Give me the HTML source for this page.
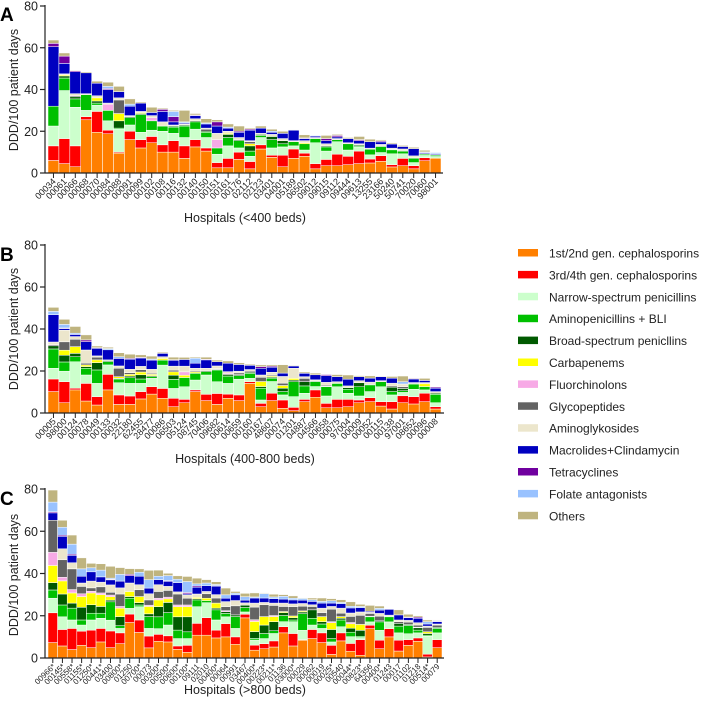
<!DOCTYPE html>
<html><head><meta charset="utf-8"><style>
html,body{margin:0;padding:0;background:#fff;}
svg{display:block;font-family:"Liberation Sans",Arial,sans-serif;}
</style></head><body>
<svg id="chart" width="708" height="713" viewBox="0 0 708 713" xmlns="http://www.w3.org/2000/svg"></svg>
<script>
const seriesNames=["1st/2nd gen. cephalosporins","3rd/4th gen. cephalosporins","Narrow-spectrum penicillins","Aminopenicillins + BLI","Broad-spectrum penicllins","Carbapenems","Fluorchinolons","Glycopeptides","Aminoglykosides","Macrolides+Clindamycin","Tetracyclines","Folate antagonists","Others"];
const seriesColors=["#ff7f00","#ff0000","#ccffcc","#00c000","#005a00","#ffff00","#f7aae6","#636363","#ece6cc","#0000c0","#70009f","#99c2ff","#bfb47f"];
const yTicks=[0,20,40,60,80];
const labelsA=["00034","00061","00066","00068","00070","00084","00088","00091","00099","00102","00108","00116","00132","00140","00150","00151","00161","00176","02112","02123","03401","04001","05189","06502","09012","09015","09112","09444","09613","13255","23166","50240","50741","70020","70060","98001"];
const valuesA=[
[6,7,9.5,9.5,0,0,0,0,0,28.5,1.6,0,1.6],
[4.5,12,23,6,1,0.5,0,0,0.5,5,3.5,0,1.5],
[3,10,18.5,4,1,0,0,0.5,1,10.5,0.5,0,0.3],
[25.5,1.5,3,7.5,0,0,0,0,0.5,10,0,0,0.5],
[19.5,10,3,1,1,1.5,0,0,1,6,0,0,1],
[18.8,1.7,4.5,5,0,0,3,0,0.5,6.5,0.5,1,2],
[9.5,0.5,11,0.5,3.5,3.5,0,6.5,1,3,0,0,2.5],
[16,4,3,3.5,0.5,0,0,0,0.5,4.5,0,1,2.5],
[12,4,3.5,8.5,0.5,0.5,0,0,0.5,4,0,0,0.5],
[14.5,3,3,4.5,0,0,1.5,0,1,1.5,0,0,2.5],
[10,3.5,6.5,2.5,0,0,0,0,2,5,1,0,0.5],
[10,5.5,3.5,3,0.5,0,0,0,0.5,1.5,2.5,2.5,0.5],
[7,6,4,5.5,0.5,0,0,0,0.5,0.5,0,0.5,5.5],
[12.5,3.5,5,3.5,0.5,0,0,0,1,1.5,0.3,0,0.7],
[10.5,1.5,5,2.5,0.5,0,0,1,0.5,2,0,0.5,2],
[2.5,2.5,4,3,0,0,4,0,3,3.5,2,0,1],
[2.5,4.5,6,4,1.5,0.5,0,0,1,1.5,0,0.5,1.5],
[6.5,3.5,2,3.5,0.5,0,0,0,1,2.5,0.5,0,2.5],
[2,3.5,2.5,2.5,2.5,1,0,1,0.5,5,0.5,0,0.5],
[11.5,2,3.5,1,0.5,0,0,0,0.5,2.5,0,0,1],
[7.5,1,3.5,4,1.5,0,0,0,1,1,0,0.5,1],
[3,5.5,4,1.5,1.5,0,0,0,1,2.5,0,0,1],
[7,4.5,1.5,2,0,0,0,0,0.5,5,0,0,0.2],
[8,1.5,1.5,3,0,0.5,0,0,1,1,0.3,0,1.5],
[2,2.5,10,2,0,0,0,0,0.5,0.7,0,0.3,0],
[3.5,3,4,2,0.5,0,0,0,1,1.5,1,0,1.5],
[3.5,5.5,6,1,0,0,0,0,0.5,0.8,0.7,0,0.5],
[4,4,3,3,0,0,0,0,0.5,2,0,0,0.5],
[4.5,6,2,0.5,0.5,0,0,0,0.5,1.5,0.5,0,1.5],
[4.8,1.9,2,2.7,0,0,0,0,0.5,3.1,0,0,1.2],
[5.6,2.7,1.5,2.9,0.3,0,0,0,0.7,1.2,0.5,0,0.5],
[2.9,1.1,5.2,1.9,0.3,0,0,0,0.5,2,0,0,0.5],
[3.5,3.5,2.2,1.3,0.3,0,0,0,0.7,1.2,0,0,0.5],
[2,1.5,1.5,2.1,0,0.3,0,0,0.8,3.5,0,0,0.6],
[5.9,1.4,1.1,0.6,0,0,0,0,0.3,0.5,0,0.3,0.8],
[7.1,0,0.8,0.6,0,0,0,0,0.3,0.4,0,0.6,0]
];
const labelsB=["00005","98000","00124","00078","00049","00133","00032","22180","62455","28477","00086","06503","05124","08745","70406","09682","00614","00659","00160","00167","48607","00074","01201","04887","04566","00658","00075","97004","00009","00052","00115","00138","97001","08652","00096","00008"];
const valuesB=[
[10.2,6,5.1,9.2,1.5,0,0,0.5,1.3,13,0,1.6,1.9],
[4.9,10,5,4.4,3.2,2.4,0,4,5.5,0.8,0.3,1.7,2.4],
[11,0.8,12.6,2.4,1.6,3.2,0,3.5,1.3,1,0,0.6,3.2],
[5.7,8.4,4,3.2,0.8,0.8,0,0.8,6.3,4,0.8,0,2.4],
[3.8,4,6.3,6.4,3.5,1.3,0,1.3,0.6,3.6,0.3,0,0.8],
[11,7.4,4.5,1.6,0.5,0,0,0,0.3,4.8,0,0.6,0.6],
[4.1,4.5,5.8,1.8,0.3,0.8,0,4,1.1,3.6,0,0.8,1.9],
[4.1,4,6,2.7,0.8,0.8,0,0.8,1.6,4.8,0.4,0,2],
[6.7,3.5,3.9,2.1,2,1.3,0,1.1,1.6,4,0.3,0,1.2],
[9,3.5,4,0.8,0.5,0.6,0,0.5,1.9,4.4,0,0.5,1.4],
[7,4.7,11.1,2.4,0,0.8,0,0,0.8,1.6,0,0,0.5],
[3,4,4.7,4.3,2,1.6,0,0.8,1.9,2.8,0.3,0,1.2],
[4.9,1.6,6,4.4,0,1.1,1.6,0,2.7,3.2,0,0,1],
[10.2,0.8,4.7,3.2,0,0.6,0,0.5,1.3,2.4,0,2.4,0.5],
[5.9,3,9.2,1.6,0.5,0,0,0,1.1,4,0.3,0,1],
[4.1,5.2,5.6,5.6,0.3,0,0.3,0,1.3,2,0,0,0.8],
[7,2,5.1,3.5,0.8,0,0.5,0,0.8,4,0,0,1.1],
[5.9,2.7,7.5,1.7,0.5,0,0,0.8,0.8,3.2,0,0,0.8],
[14.1,0.8,1.6,2.4,0.5,0,0,0.5,0.8,2,0,0,0.5],
[3,1.6,1.6,5.6,0.8,2.4,0,2,1.1,3.2,0.8,0,0.8],
[5.9,3.5,5.6,1.6,0.5,0.5,0,0.5,1.3,2.4,0.5,0,0.6],
[2.2,4,2.4,1.6,1.6,1.3,0,1.1,3.2,1.6,0,0,4],
[1.1,1.6,5.1,7.1,0.8,0.8,0,0,4.8,1.1,0,0,0.3],
[5.4,1.1,2.9,3.5,2,0,0,1.6,0.8,1.6,0,0,0.6],
[7.5,3.5,1.6,2.4,0.3,0,0,0,0.5,2.4,0,0,0.8],
[2.5,2.1,3.5,4.4,0.3,0,0,0.5,1.3,3.2,0.5,0,0],
[2.5,4,6,1.6,0,0,0,0,0.8,2.4,0,0,1],
[3,3.5,2.9,1.9,0.8,0,0,0,0.8,3.2,0,0,2],
[4.9,1.3,1.9,4.4,1.9,0,0,0,1,1.9,0,0,0.5],
[5.4,1.9,2.9,3.2,0.3,0,0,0,1,1.9,0,0,1.1],
[3.3,2.1,7.1,2.4,0,0,0,0,0.5,1.9,0,0,0.3],
[1.9,3.5,3.2,1.6,2.1,0,0,0.6,1.3,2.4,0,0,0.8],
[4.9,3.3,1.6,0.8,1.1,0,0,0.8,1.3,0,0,1.1,2.7],
[4.3,3.5,3.5,2.5,0.3,0,0,0,0.4,1.7,0.3,0,0.3],
[5.4,4,1.6,1.6,0,1.3,0,0,0.6,1,0,0,1],
[1.9,1.1,1.9,4,0.5,0,0,0,0.8,1.6,0.5,0,0]
];
const labelsC=["00966*","00145*","00558*","01155*","01250*","00441*","03400","00800*","01250","00700*","00073","00300*","00500*","00600*","00100*","09111","02010","00400*","00064","00991","03467","00400*","00223*","00211*","01136","03000*","00029","00062","00019","00025*","00540","00044*","00823*","64356","00400*","01243","00017","01102","01218","00514*","00079"];
const valuesC=[
[7.3,14.1,6.9,3.9,3.5,8.1,6.2,15.2,0,3.5,0.5,4.6,5.7],
[5.7,7.8,6,5.6,5.2,6.2,1.7,8.3,5.2,5.9,0.5,3.8,3.3],
[4,10,4,5.6,2.4,4.8,1.6,9.8,2.9,3.5,0.5,4.8,4.3],
[6,6.7,2.9,2.4,6,5.1,1.3,3.5,1.6,3.2,0,3.5,5.2],
[4.9,8.3,4.8,3.2,4,5.6,0.8,1.6,3.2,4.4,0,1.9,2.1],
[7.6,6.4,4.8,2.4,3.2,5.6,0.8,2.9,2.2,2.5,0,3.2,3],
[4.9,7.9,5.1,8.7,0.8,1.6,0.8,1.3,3.5,2.4,0.3,0.5,5.6],
[6.8,5.1,2.1,1.3,4.3,4,0.8,5.9,2.9,3.2,0,3.2,3.2],
[16.8,4,2.7,4.8,0.8,2.4,0,0,4,3.5,0.6,0,2.7],
[12.1,5.9,6.3,0.8,1.1,2.9,0,3.2,2.4,4,0,1.9,1.6],
[4.8,5.6,3.6,5.6,1.3,3.5,0.6,2.5,2.9,2.7,0,4,4.4],
[7.9,3.3,2.7,5.6,4.8,3.2,0.8,3.2,3.2,2.4,0,1.6,2.9],
[7.6,2.9,5.1,5.9,4.8,1.7,0.8,3.2,1.9,2.4,0.3,2.4,1.1],
[4.1,1.6,3.5,4,6.3,4.8,0.8,5.2,1,4.4,0,1.6,1.6],
[2.7,3.3,3.2,3.2,7.1,4.8,0.8,3.2,1.6,0.5,0.6,5.2,2.4],
[10.8,5.6,7.9,3.2,0.6,0.6,0,0,1.6,3.2,0.6,1,2.7],
[10.8,8.3,7.1,1,0,1.1,0,2.1,1.1,2.7,0,1.3,1.6],
[9.5,3.7,4.8,4.8,0.8,2.4,0,2.4,1.6,4,0.3,0.5,1.3],
[10,6.3,3.2,1.6,0.8,0,0.5,1.9,2.4,1.6,0,1.6,3.2],
[6.5,3.5,4,5.6,0.8,0,0,4.3,2.5,2.7,0,0.8,0.8],
[19,1.7,1.1,2.1,1.1,0,0,0,1.1,1.3,0,1.6,1.6],
[3.7,2.4,2.4,0.8,3.2,4.8,0.8,6,1.9,2.4,0,0.5,1.9],
[4.4,2.4,2.4,2.4,4,4,0,5.6,1.1,2.1,0,2.1,0.3],
[5.2,2.9,3.5,1.3,4.3,2.4,0.5,4.8,1.1,2.1,0,0.8,1.3],
[11.9,2.9,2.4,2.9,1.4,0.5,0,2.4,1.6,1.9,0,1.3,0.8],
[5.7,5.9,5.6,0.8,1.1,0.8,0,4.4,1.3,1.9,0,0.8,1.1],
[8.4,0.3,4.4,7.9,0.8,0.5,0,2.2,1.3,1.6,0,0.8,0.3],
[9.2,4.3,2.1,3.2,4,0,0,1.6,0.8,1.6,0,0.8,0.8],
[7.3,4.6,2.1,2.1,1.1,2.4,0,1.9,2.1,2.4,0,0.8,1.6],
[1.7,4.3,1.6,1.6,4.3,3.2,0.5,5.9,1.3,1.6,0,1.1,1],
[8.1,3.8,2.9,3.2,0.8,0.8,0,1.6,2.4,2.1,0,0.6,1.3],
[3.2,3.7,3.2,2.1,1.9,2.1,0.6,2.9,1.6,2.4,0,0.8,2.1],
[1.3,7.4,1,0.6,2.8,2.8,0,4.3,1.6,2,0,0.6,1],
[13.9,1.6,1.6,2.4,0.3,0,0,1.3,0.5,0.5,0,0,2.8],
[4.4,4,4.7,4,0.5,0,0,2.2,1.3,1.6,0,0.8,1.1],
[10,3.9,3.2,2.4,0.3,0,0,0,0.5,2.7,0,0,0],
[3.3,5.1,3.5,3.2,1.3,0,0,0.8,0.8,2.4,0,0,2.4],
[6,2.7,2.8,3.9,0.5,0,0,1.1,0.8,1.3,0.3,0,1.3],
[7.9,1.6,2.4,1.3,1.1,0,0.3,1,1.1,2.1,0.5,0,0.6],
[0.5,1.3,8.5,0.5,0.8,0.8,0,2.1,0.6,1,0,1.1,0.8],
[4.9,3.8,3.2,2.1,0.5,0,0,1.1,0.5,1.1,0.3,0.3,0.3]
];

const NS="http://www.w3.org/2000/svg";
const svg=document.getElementById('chart');
function mk(tag,attrs,parent){const e=document.createElementNS(NS,tag);for(const k in attrs)e.setAttribute(k,attrs[k]);(parent||svg).appendChild(e);return e;}

const panels=[
 {key:'a',letter:'A',labels:labelsA,values:valuesA,y0:173,y80:6,x0:45,x1:443,first:48,last:441,title:'Hospitals (<400 beds)',titleY:222,axisTitleY:90,letterY:21,lf:9},
 {key:'b',letter:'B',labels:labelsB,values:valuesB,y0:413,y80:245,x0:45,x1:444,first:48,last:441,title:'Hospitals (400-800 beds)',titleY:463,axisTitleY:329,letterY:261,lf:9},
 {key:'c',letter:'C',labels:labelsC,values:valuesC,y0:658,y80:489,x0:45,x1:444,first:48,last:442,title:'Hospitals (>800 beds)',titleY:694,axisTitleY:575,letterY:505,lf:8}
];

panels.forEach(p=>{
  const g=mk('g',{});
  
  
  const yScale=v=>p.y0-(v/80)*(p.y0-p.y80);
  const n=p.labels.length;
  const step=(p.last-p.first)/n;
  const xScale=i=>p.first+i*step;
  const bw=step;
  const lt=mk('text',{x:0,y:p.letterY,'font-size':19,'font-weight':'bold',fill:'#000'},g);
  lt.textContent=p.letter;
  
  
  p.values.forEach((row,i)=>{
    const bg=mk('g',{},g);
    
    
    let cum=0;
    row.forEach((v,s)=>{
      if(v<=0)return;
      const yt=yScale(cum+v), yb=yScale(cum);
      const r=mk('rect',{x:xScale(i),y:yt,width:bw,height:Math.max(0,yb-yt),fill:seriesColors[s],stroke:'#fff','stroke-width':0.5},bg);
      
      
      cum+=v;
    });
  });
  const ya=mk('line',{x1:p.x0,y1:p.y80-1,x2:p.x0,y2:p.y0,stroke:'#222','stroke-width':1.2},g);
  
  
  const xa=mk('line',{x1:p.x0,y1:p.y0,x2:p.x1,y2:p.y0,stroke:'#222','stroke-width':1.2},g);
  
  
  yTicks.forEach(t=>{
    const y=yScale(t);
    mk('line',{x1:p.x0-5,y1:y,x2:p.x0,y2:y,stroke:'#222','stroke-width':1.2},g);
    const tx=mk('text',{x:p.x0-7,y:y+4.5,'font-size':12.5,'text-anchor':'end',fill:'#222'},g);
    tx.textContent=t;
    
    
  });
  p.labels.forEach((lab,i)=>{
    const cx=xScale(i)+bw/2;
    mk('line',{x1:cx,y1:p.y0,x2:cx,y2:p.y0+5,stroke:'#222','stroke-width':1},g);
    const tx=mk('text',{x:cx+3,y:p.y0+9,'font-size':p.lf,'text-anchor':'end',fill:'#222',transform:'rotate(-45 '+(cx+3)+' '+(p.y0+9)+')'},g);
    tx.textContent=lab;
    
    
  });
  const at=mk('text',{x:0,y:0,'font-size':12.5,'text-anchor':'middle',fill:'#222',transform:'translate(18 '+p.axisTitleY+') rotate(-90)'},g);
  at.textContent='DDD/100 patient days';
  
  
  const xt=mk('text',{x:245,y:p.titleY,'font-size':12.5,'text-anchor':'middle',fill:'#222'},g);
  xt.textContent=p.title;
  
  
});

const lg=mk('g',{});


seriesNames.forEach((nm,i)=>{
  const y=253+i*21.9;
  const e=mk('g',{},lg);
  
  
  mk('rect',{x:518,y:y-4,width:20,height:7.5,fill:seriesColors[i]},e);
  const t=mk('text',{x:549,y:y+4.5,'font-size':12,fill:'#222'},e);
  t.textContent=nm;
});
</script>
</body></html>
